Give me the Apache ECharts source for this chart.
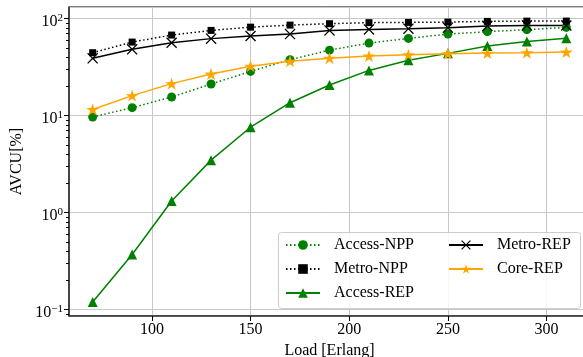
<!DOCTYPE html>
<html>
<head>
<meta charset="utf-8">
<script src="https://cdn.jsdelivr.net/npm/echarts@6/dist/echarts.min.js"></script>
<style>
  html, body { margin: 0; padding: 0; background: #fff; }
  #chart { width: 583px; height: 357px; }
</style>
</head>
<body>
<div id="chart"></div>
<script>
// data
const loads = [70, 90, 110, 130, 150, 170, 190, 210, 230, 250, 270, 290, 310]
const accessNpp = [9.7, 12.1, 15.6, 21.2, 28.6, 37.8, 47.4, 56, 62.6, 69.4, 73.5, 77.1, 81.3]
const metroNpp = [44.6, 57.4, 67.8, 75.7, 81.8, 85.9, 88.8, 91, 91.6, 92.3, 93.8, 94.4, 94.5]
const accessRep = [0.12, 0.37, 1.32, 3.48, 7.6, 13.6, 20.7, 29.3, 37.2, 43.9, 52.3, 58.3, 62.7]
const metroRep = [39, 48.3, 56.5, 62.3, 66.3, 69.4, 75.7, 77.6, 78.9, 80.8, 84, 85.3, 85]
const coreRep = [11.6, 16.1, 21.4, 26.9, 32.4, 36.5, 39.2, 41.2, 42.6, 43.6, 44.2, 44.6, 45.3]

const xTicks = [100, 150, 200, 250, 300]
const yMinorTicks = [0.09, 0.2, 0.3, 0.4, 0.5, 0.6, 0.7, 0.8, 0.9,
  2, 3, 4, 5, 6, 7, 8, 9, 20, 30, 40, 50, 60, 70, 80, 90]

const FONT = 'Liberation Serif'
const GREEN = '#008000'
const ORANGE = '#ffa500'

const STAR = 'path://M50,0L61.2,34.5L97.6,34.5L68.2,55.9L79.4,90.5L50,69.1L20.6,90.5L31.8,55.9L2.4,34.5L38.8,34.5Z'
const CROSS = 'path://M1,0L6,5L11,0L12,1L7,6L12,11L11,12L6,7L1,12L0,11L5,6L0,1Z'

const pairs = arr => loads.map((x, i) => [x, arr[i]])

const mkSeries = (name, data, color, lineType, symbol, symbolSize) => ({
  name,
  type: 'line',
  data: pairs(data),
  symbol,
  symbolSize,
  showSymbol: true,
  itemStyle: { color },
  lineStyle: { color, width: 1.5, type: lineType },
})

const sup = v => {
  const e = Math.round(Math.log10(v))
  return '{b|10}{s|' + (e < 0 ? '\u2212' + (-e) : e) + '}'
}

const chart = echarts.init(document.getElementById('chart'))

const legendBase = {
  orient: 'vertical',
  top: 237,
  itemWidth: 34,
  itemHeight: 12,
  itemGap: 8,
  padding: 0,
  textStyle: { fontFamily: FONT, fontSize: 16, color: '#000', lineHeight: 16, padding: [0, 0, 0, 9] },
}

chart.setOption({
  animation: false,
  grid: {
    left: 69, top: 7, width: 521, height: 309,
    outerBoundsMode: 'none',
    containLabel: false,
    show: true, borderColor: '#000', borderWidth: 1, backgroundColor: 'transparent',
  },
  xAxis: {
    type: 'value',
    min: 58,
    max: 322,
    splitNumber: 5,
    name: 'Load [Erlang]',
    nameLocation: 'middle',
    nameGap: 22,
    nameTextStyle: { fontFamily: FONT, fontSize: 16, color: '#000' },
    axisLine: { lineStyle: { color: '#333', width: 1.5 } },
    axisTick: { customValues: xTicks, length: 5, lineStyle: { color: '#000' } },
    axisLabel: {
      customValues: xTicks, margin: 6,
      fontFamily: FONT, fontSize: 16, color: '#000',
    },
    splitLine: { show: true, lineStyle: { color: '#c8c8c8', width: 1 } },
  },
  yAxis: [{
    type: 'log',
    logBase: 10,
    min: 0.086,
    max: 132,
    name: 'AVCU[%]',
    nameLocation: 'middle',
    nameGap: 44,
    nameTextStyle: { fontFamily: FONT, fontSize: 16, color: '#000' },
    axisLine: { show: true, lineStyle: { color: '#333', width: 1.5 } },
    axisTick: { show: true, length: 5, lineStyle: { color: '#000' } },
    axisLabel: {
      showMinLabel: false, showMaxLabel: false, margin: 6,
      padding: [6, 0, 0, 0],
      formatter: sup,
      rich: {
        b: { fontFamily: FONT, fontSize: 16, color: '#000' },
        s: { fontFamily: FONT, fontSize: 11, color: '#000', verticalAlign: 'bottom', padding: [0, 0, 8, 0] },
      },
    },
    splitLine: { show: true, lineStyle: { color: '#c8c8c8', width: 1 } },
  }, {
    type: 'log',
    logBase: 10,
    min: 0.086,
    max: 132,
    position: 'left',
    offset: 0,
    axisLine: { show: false },
    axisTick: { show: true, customValues: yMinorTicks, length: 3, lineStyle: { color: '#000' } },
    axisLabel: { show: false },
    splitLine: { show: false },
  }],
  legend: [
    { ...legendBase, left: 285, data: ['Access-NPP', 'Metro-NPP', 'Access-REP'] },
    { ...legendBase, left: 448, data: ['Metro-REP', 'Core-REP'] },
  ],
  graphic: [{
    type: 'rect',
    z: 3,
    shape: { x: 278.5, y: 232.5, width: 302, height: 76, r: 3 },
    style: { fill: 'rgba(255,255,255,0.85)', stroke: '#cccccc', lineWidth: 1 },
  }],
  series: [
    mkSeries('Access-NPP', accessNpp, GREEN, [1.5, 2.5], 'circle', 9),
    mkSeries('Metro-NPP', metroNpp, '#000', [1.5, 2.5], 'rect', 7),
    mkSeries('Access-REP', accessRep, GREEN, 'solid', 'triangle', 10),
    mkSeries('Metro-REP', metroRep, '#000', 'solid', CROSS, 11),
    mkSeries('Core-REP', coreRep, ORANGE, 'solid', STAR, [13, 12]),
  ],
})
</script>
</body>
</html>
